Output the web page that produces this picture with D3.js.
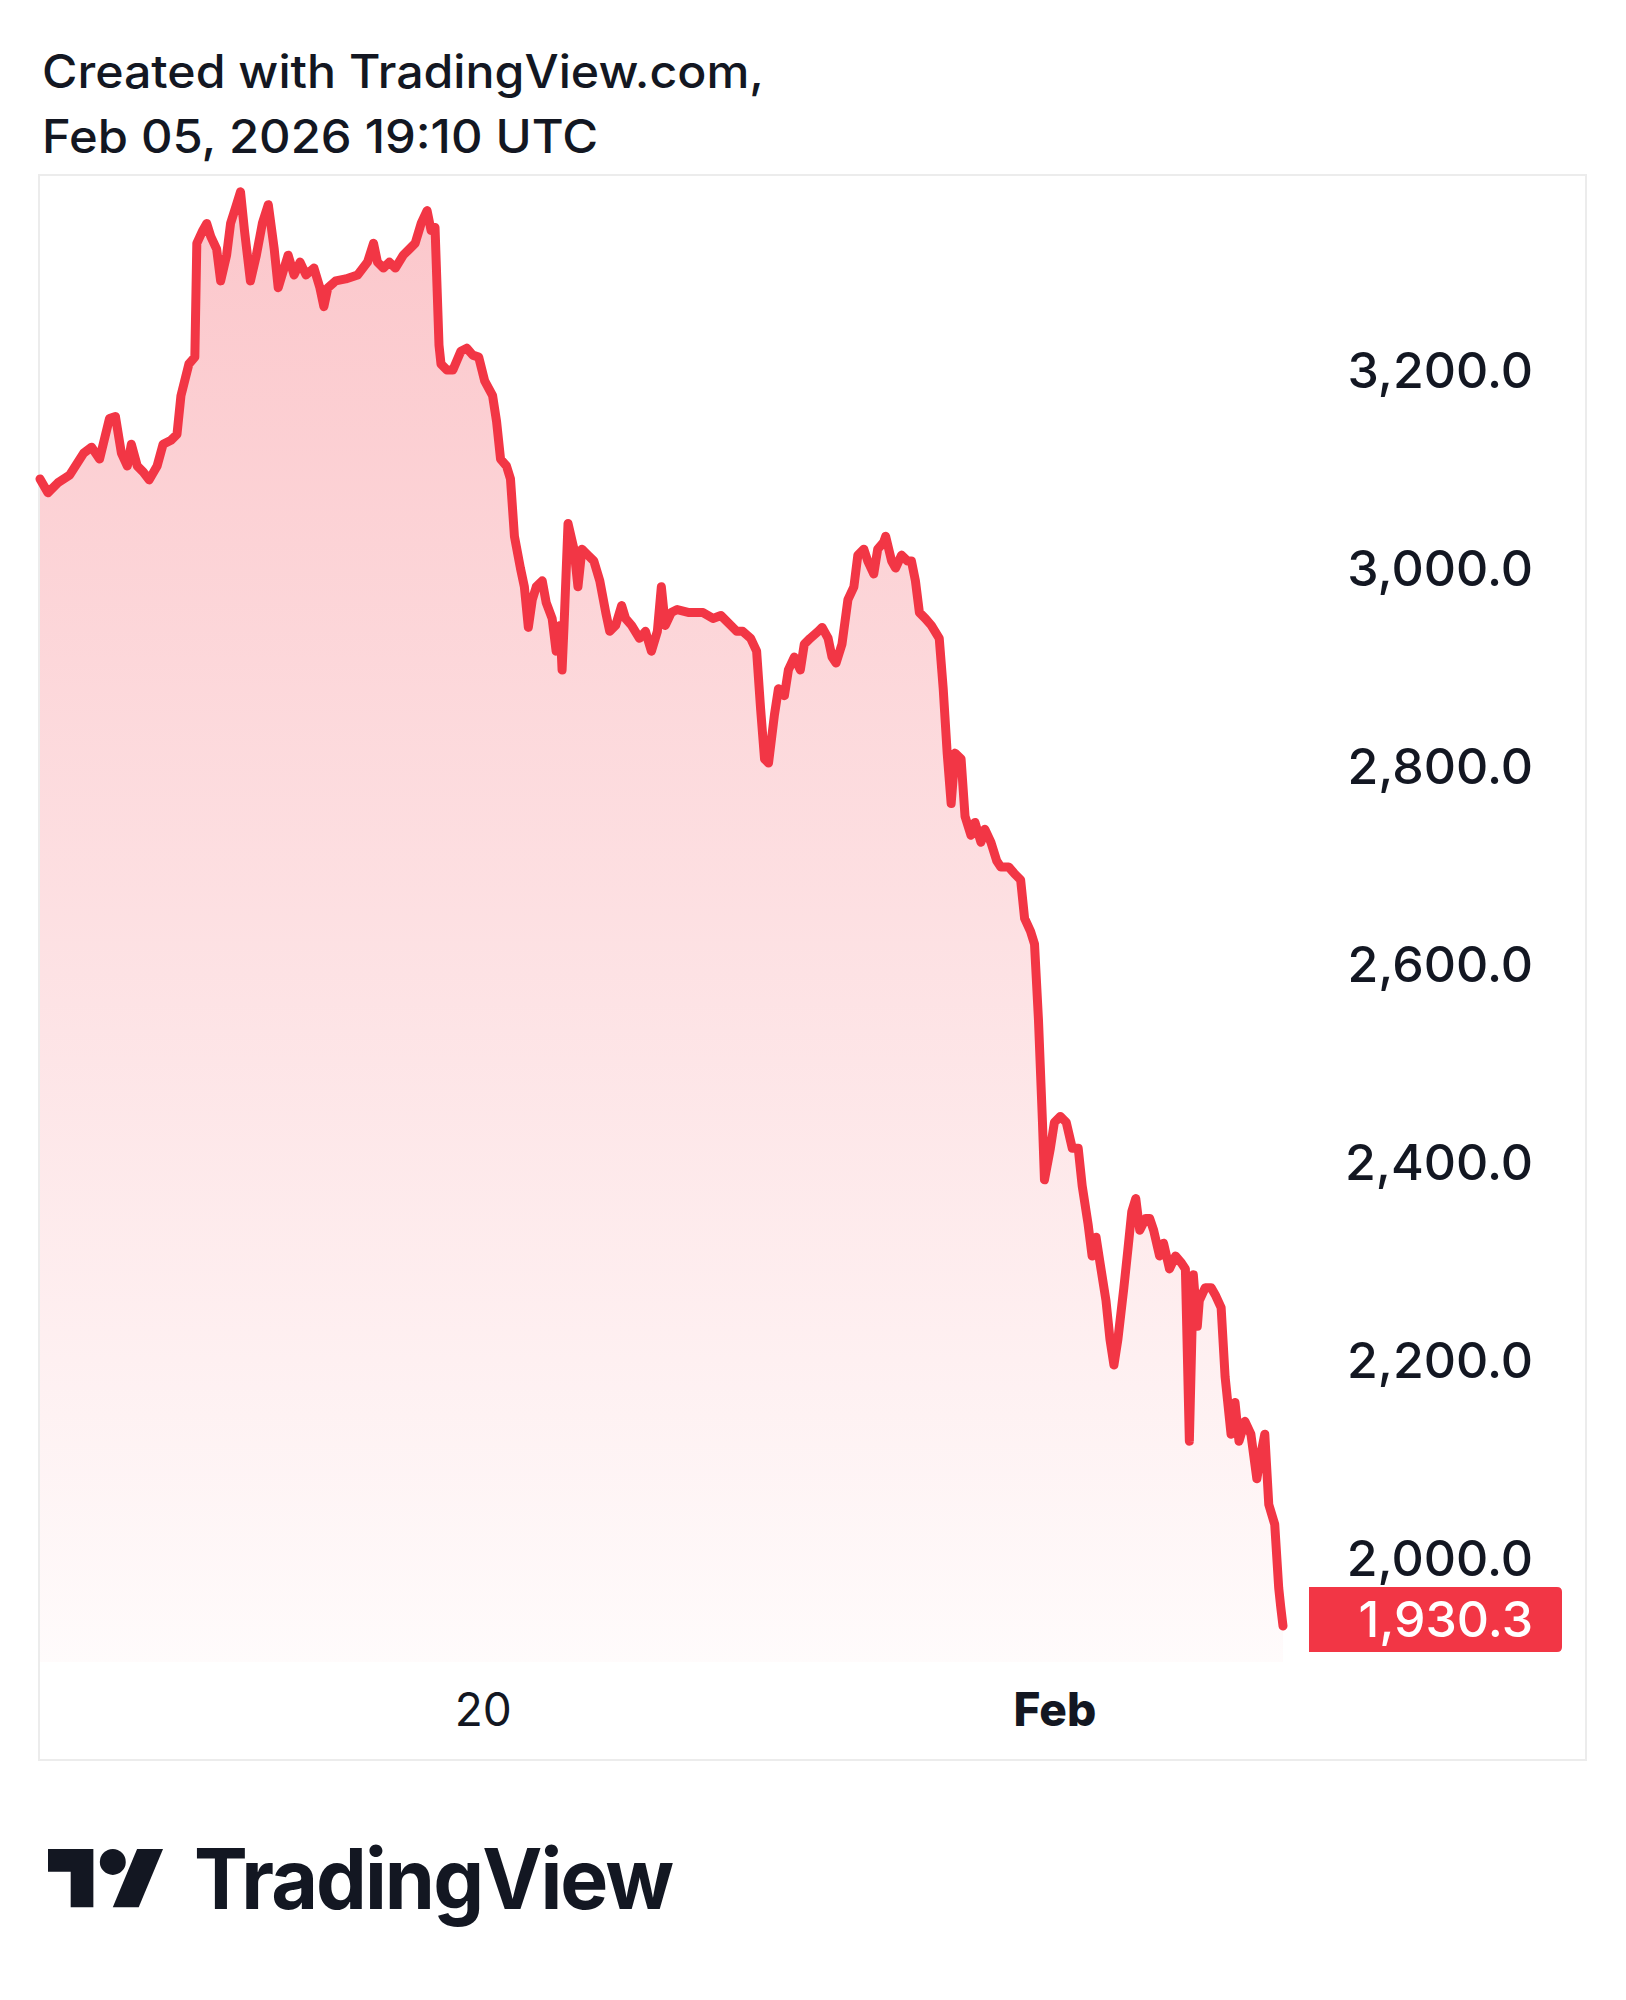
<!DOCTYPE html>
<html>
<head>
<meta charset="utf-8">
<script src="https://cdn.jsdelivr.net/npm/d3@7"></script>
<style>
  html, body { margin: 0; padding: 0; background: #ffffff; }
  svg { display: block; }
  text { font-family: Inter, "Noto Sans", Roboto, sans-serif; fill: #131722; }
</style>
</head>
<body>
<svg id="chart" width="1626" height="2000"></svg>
<script>
// ---- Data ----
const titleLines = ["Created with TradingView.com,", "Feb 05, 2026 19:10 UTC"];
const startTime = "2026-01-10T00:00:00Z"; // hours below are counted from this moment (UTC)
const hours = [17,21,26,32,39,43,47,52,55,58,61,63,66,69,72,76,79,83,86,88,92,95,96,99,101,103,106,108,111,113,116,118,120,123,126,129,132,135,137,140,142,145,148,151,155,158,160,162,166,171,177,182,185,187,190,193,196,200,203,206,209,212,214,216,218,219,222,225,229,232,235,238,241,245,247,249,252,254,256,259,261,263,265,267,270,272,275,277,279,280,281,283,286,288,290,293,296,299,302,304,307,310,312,315,319,322,325,328,330,332,335,338,344,351,356,360,365,368,371,375,378,380,382,384,387,389,392,394,397,400,402,405,409,411,414,416,418,421,424,427,429,432,434,437,439,442,443,446,448,451,454,456,458,460,463,466,470,472,474,476,478,481,483,486,488,491,493,496,499,501,505,508,511,513,516,518,520,522,523,526,528,531,534,537,540,542,545,547,549,551,554,556,558,560,563,565,567,569,571,574,576,578,581,583,586,589,592,594,596,598,600,601,604,607,609,612,614,617,619,621,624,627,630,632,634,636,639,641,642,643.17];
const prices = [3089,3075,3085,3093,3115,3121,3109,3150,3152,3115,3102,3124,3102,3096,3088,3102,3124,3128,3134,3173,3205,3212,3327,3340,3347,3334,3321,3289,3315,3347,3366,3379,3340,3289,3315,3347,3366,3321,3282,3302,3315,3295,3308,3295,3302,3282,3263,3282,3289,3291,3295,3308,3327,3308,3302,3308,3302,3315,3321,3327,3347,3360,3340,3343,3224,3205,3199,3199,3218,3221,3214,3212,3188,3173,3147,3109,3102,3089,3031,2999,2980,2939,2967,2980,2986,2964,2948,2915,2941,2896,2941,3044,3018,2980,3018,3012,3006,2986,2954,2935,2941,2961,2948,2941,2928,2935,2915,2935,2980,2941,2954,2957,2954,2954,2948,2951,2941,2935,2935,2928,2915,2857,2806,2802,2851,2877,2870,2896,2909,2896,2922,2928,2935,2939,2928,2909,2903,2922,2967,2980,3012,3018,3006,2993,3018,3025,3031,3006,2999,3012,3006,3006,2986,2954,2948,2941,2928,2877,2812,2761,2812,2806,2748,2729,2742,2722,2735,2722,2703,2697,2697,2690,2684,2645,2632,2619,2542,2439,2381,2413,2439,2445,2439,2413,2413,2375,2336,2304,2323,2297,2259,2220,2194,2220,2272,2310,2349,2362,2330,2342,2342,2330,2304,2317,2291,2304,2297,2291,2117,2285,2233,2259,2272,2272,2265,2252,2182,2124,2156,2117,2137,2124,2079,2104,2124,2053,2033,1969,1950,1930.3];
const yTickValues = [2000, 2200, 2400, 2600, 2800, 3000, 3200];
const xTickDates = ["2026-01-20T00:00:00Z", "2026-02-01T00:00:00Z"];
const xTickLabels = ["20", "Feb"];
const lastPrice = 1930.3;
const brandName = "TradingView";

// ---- Build ----
const t0 = new Date(startTime).getTime();
const data = hours.map((h, i) => ({ t: new Date(t0 + h * 3600e3), v: prices[i] }));

const svg = d3.select("#chart");
const RED = "#F23645";

// frame of the chart pane
const frame = { left: 40, top: 175, right: 1586, bottom: 1760 };
const paneBottom = 1662;

const x = d3.scaleUtc()
  .domain([data[0].t, data[data.length - 1].t])
  .range([40, 1283]);
const y = d3.scaleLinear().domain([2000, 3200]).range([1557, 369]);

// Title
const title = svg.append("g");
title.append("text").attr("x", 42).attr("y", 88).attr("font-size", 46).attr("font-weight", 500)
  .attr("textLength", 722).attr("lengthAdjust", "spacingAndGlyphs").text(titleLines[0]);
title.append("text").attr("x", 42).attr("y", 153).attr("font-size", 46).attr("font-weight", 500)
  .attr("textLength", 556).attr("lengthAdjust", "spacingAndGlyphs").text(titleLines[1]);

// Pane border
svg.append("rect")
  .attr("x", frame.left - 1).attr("y", frame.top)
  .attr("width", frame.right - frame.left + 1).attr("height", frame.bottom - frame.top)
  .attr("fill", "none").attr("stroke", "#ececec").attr("stroke-width", 2);

// Gradient
const defs = svg.append("defs");
const grad = defs.append("linearGradient").attr("id", "areaGrad")
  .attr("gradientUnits", "userSpaceOnUse")
  .attr("x1", 0).attr("x2", 0).attr("y1", y(3380)).attr("y2", paneBottom);
grad.append("stop").attr("offset", "0%").attr("stop-color", RED).attr("stop-opacity", 0.28);
grad.append("stop").attr("offset", "55%").attr("stop-color", RED).attr("stop-opacity", 0.14);
grad.append("stop").attr("offset", "100%").attr("stop-color", RED).attr("stop-opacity", 0.02);

const area = d3.area().x(d => x(d.t)).y0(paneBottom).y1(d => y(d.v));
const line = d3.line().x(d => x(d.t)).y(d => y(d.v));

svg.append("path").datum(data).attr("d", area).attr("fill", "url(#areaGrad)");
svg.append("path").datum(data).attr("d", line)
  .attr("fill", "none").attr("stroke", RED).attr("stroke-width", 9)
  .attr("stroke-linejoin", "round").attr("stroke-linecap", "round");

// Y axis (price scale)
const yAxis = d3.axisRight(y).tickValues(yTickValues).tickSize(0).tickPadding(0)
  .tickFormat(d3.format(",.1f"));
const yg = svg.append("g").attr("transform", "translate(1533,0)").call(yAxis);
yg.select(".domain").remove();
yg.selectAll("text").attr("x", 0).attr("dy", "0.36em").attr("text-anchor", "end")
  .attr("font-size", 50).attr("font-weight", 500).attr("font-family", "Inter, sans-serif").attr("fill", "#131722");

// Last price label
const ly = y(lastPrice) - 7;
svg.append("path")
  .attr("d", `M1309,${ly - 32} H1557 Q1562,${ly - 32} 1562,${ly - 27} V${ly + 28} Q1562,${ly + 33} 1557,${ly + 33} H1309 Z`)
  .attr("fill", RED);
svg.append("text").attr("x", 1533).attr("y", ly).attr("dy", "0.36em")
  .attr("text-anchor", "end").attr("font-size", 50).attr("font-weight", 500).style("fill", "#ffffff")
  .text(d3.format(",.1f")(lastPrice));

// X axis (time scale)
const xTicks = xTickDates.map(s => new Date(s));
const xAxis = d3.axisBottom(x).tickValues(xTicks).tickSize(0).tickPadding(0)
  .tickFormat((d, i) => xTickLabels[i]);
const xg = svg.append("g").attr("transform", "translate(0,1709)").call(xAxis);
xg.select(".domain").remove();
xg.selectAll("text").attr("y", 0).attr("dy", "0.36em")
  .attr("font-size", 46).attr("font-family", "Inter, sans-serif").attr("fill", "#131722")
  .attr("font-weight", (d, i) => i === 1 ? 800 : 400);

// Brand logo
const logo = svg.append("g").attr("transform", "translate(48,1836) scale(3.24)");
logo.append("path").attr("d", "M14 22H7V11H0V4h14v18z").attr("fill", "#131722");
logo.append("circle").attr("cx", 20).attr("cy", 8).attr("r", 4).attr("fill", "#131722");
logo.append("path").attr("d", "M27.5 4h8L28 22h-8z").attr("fill", "#131722");
svg.append("text").attr("x", 194).attr("y", 1909).attr("font-size", 84).attr("font-weight", 700)
  .attr("textLength", 478).attr("lengthAdjust", "spacingAndGlyphs")
  .attr("letter-spacing", -2).text(brandName);
</script>
</body>
</html>
